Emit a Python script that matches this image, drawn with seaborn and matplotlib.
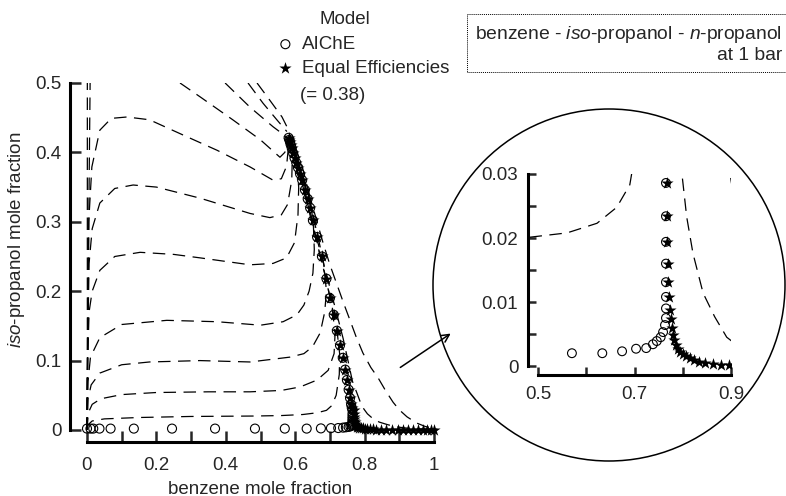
import matplotlib
matplotlib.use("Agg")
import matplotlib.pyplot as plt
from matplotlib.patches import Ellipse, FancyArrowPatch
import pandas as pd
import seaborn as sns

# residue curves (benzene x, iso-propanol y)
edge1_x = [0.0, 0.001, 0.001, 0.001]
edge1_y = [0.0, 0.1, 0.3, 0.5]
edge2_x = [0.0, 0.003, 0.006, 0.009]
edge2_y = [0.0, 0.15, 0.35, 0.5]

curve_a_x = [0.0, 0.002, 0.005, 0.014, 0.037, 0.07, 0.115, 0.18, 0.277, 0.375, 0.47, 0.536, 0.56, 0.575, 0.582]
curve_a_y = [0.0, 0.15, 0.3, 0.379, 0.432, 0.449, 0.451, 0.447, 0.425, 0.403, 0.379, 0.36, 0.362, 0.38, 0.415]
curve_b_x = [0.0, 0.002, 0.006, 0.015, 0.037, 0.08, 0.133, 0.2, 0.326, 0.47, 0.527, 0.56, 0.578, 0.59, 0.592, 0.585]
curve_b_y = [0.0, 0.12, 0.24, 0.29, 0.327, 0.348, 0.353, 0.35, 0.334, 0.312, 0.306, 0.31, 0.325, 0.36, 0.4, 0.418]
curve_c_x = [0.0, 0.002, 0.006, 0.015, 0.037, 0.08, 0.153, 0.25, 0.326, 0.47, 0.536, 0.575, 0.598, 0.608, 0.61, 0.605, 0.59]
curve_c_y = [0.0, 0.1, 0.17, 0.2, 0.23, 0.25, 0.256, 0.253, 0.248, 0.238, 0.24, 0.248, 0.27, 0.31, 0.35, 0.38, 0.41]
curve_d_x = [0.0, 0.003, 0.01, 0.037, 0.1, 0.23, 0.375, 0.5, 0.565, 0.605, 0.625, 0.64, 0.651, 0.655, 0.652, 0.64, 0.62, 0.598]
curve_d_y = [0.0, 0.07, 0.105, 0.133, 0.152, 0.158, 0.156, 0.151, 0.156, 0.166, 0.18, 0.2, 0.226, 0.26, 0.3, 0.34, 0.38, 0.41]
curve_e_x = [0.0, 0.003, 0.012, 0.037, 0.1, 0.18, 0.326, 0.47, 0.585, 0.625, 0.65, 0.672, 0.685, 0.69, 0.682, 0.665, 0.645, 0.62, 0.598]
curve_e_y = [0.0, 0.045, 0.065, 0.082, 0.094, 0.098, 0.1, 0.098, 0.105, 0.11, 0.12, 0.14, 0.17, 0.2, 0.24, 0.28, 0.32, 0.365, 0.405]
curve_f_x = [0.0, 0.004, 0.015, 0.04, 0.1, 0.2, 0.35, 0.47, 0.56, 0.614, 0.663, 0.695, 0.712, 0.715, 0.705, 0.688, 0.668, 0.645, 0.62, 0.598]
curve_f_y = [0.0, 0.025, 0.037, 0.045, 0.051, 0.054, 0.055, 0.055, 0.057, 0.062, 0.072, 0.086, 0.11, 0.14, 0.18, 0.22, 0.26, 0.31, 0.36, 0.405]
curve_g_x = [0.0, 0.004, 0.015, 0.05, 0.15, 0.3, 0.48, 0.56, 0.622, 0.663, 0.69, 0.705, 0.718, 0.727, 0.728, 0.72, 0.703, 0.685, 0.665, 0.645, 0.622, 0.602]
curve_g_y = [0.0, 0.008, 0.013, 0.016, 0.018, 0.0195, 0.0201, 0.0208, 0.0223, 0.0248, 0.0283, 0.035, 0.05, 0.08, 0.11, 0.145, 0.185, 0.225, 0.265, 0.305, 0.35, 0.39]

top1_x = [0.268, 0.326, 0.42, 0.5, 0.556, 0.57, 0.58]
top1_y = [0.5, 0.48, 0.447, 0.418, 0.393, 0.4, 0.415]
top2_x = [0.398, 0.47, 0.536, 0.576]
top2_y = [0.5, 0.465, 0.437, 0.422]
top3_x = [0.464, 0.507, 0.547, 0.576]
top3_y = [0.5, 0.471, 0.447, 0.43]
top4_x = [0.49, 0.527, 0.562, 0.585]
top4_y = [0.5, 0.475, 0.451, 0.428]

right1_x = [0.584, 0.6, 0.62, 0.64, 0.66, 0.68, 0.7, 0.72, 0.738, 0.752, 0.765, 0.778, 0.79, 0.798, 0.808,
            0.821, 0.842, 0.866, 0.891, 0.92, 0.95, 0.98, 1.0]
right1_y = [0.42, 0.39, 0.355, 0.318, 0.28, 0.243, 0.205, 0.167, 0.132, 0.1, 0.07, 0.053, 0.037, 0.0301, 0.0233,
            0.0176, 0.0114, 0.0077, 0.0045, 0.0028, 0.0017, 0.0009, 0.0005]
right2_x = [0.585, 0.6, 0.62, 0.64, 0.66, 0.68, 0.7, 0.72, 0.74, 0.758, 0.775, 0.795, 0.818, 0.839, 0.86,
            0.882, 0.9, 0.922, 0.95, 0.975, 1.0]
right2_y = [0.425, 0.4, 0.37, 0.34, 0.305, 0.27, 0.238, 0.21, 0.182, 0.158, 0.135, 0.111, 0.09, 0.075, 0.057,
            0.04, 0.029, 0.019, 0.01, 0.005, 0.002]

# simulated column profiles
line_x = [0.581, 0.583, 0.585, 0.587, 0.59, 0.594, 0.598, 0.603, 0.608, 0.614, 0.62, 0.628, 0.636, 0.643,
          0.651, 0.663, 0.677, 0.69, 0.7, 0.711, 0.72, 0.729, 0.737, 0.744, 0.749, 0.754, 0.758, 0.761, 0.763]
line_y = [0.421, 0.418, 0.415, 0.411, 0.406, 0.399, 0.392, 0.385, 0.378, 0.369, 0.36, 0.346, 0.333, 0.32,
          0.302, 0.278, 0.25, 0.218, 0.19, 0.166, 0.143, 0.122, 0.104, 0.087, 0.072, 0.058, 0.046, 0.037, 0.032]
aiche_tail_x = [0.765, 0.765, 0.765, 0.765, 0.765, 0.765, 0.765, 0.765, 0.763, 0.759, 0.754, 0.746, 0.738,
                0.724, 0.703, 0.674, 0.633, 0.57, 0.484, 0.369, 0.245, 0.135, 0.068, 0.036, 0.018, 0.01, 0.0]
aiche_tail_y = [0.0286, 0.0234, 0.0194, 0.016, 0.0131, 0.0108, 0.009, 0.0075, 0.0064, 0.0053, 0.0045, 0.0039,
                0.0034, 0.0028, 0.0027, 0.0023, 0.002, 0.002, 0.002, 0.002, 0.002, 0.002, 0.002, 0.002,
                0.002, 0.002, 0.002]
equal_tail_x = [0.768, 0.768, 0.768, 0.769, 0.77, 0.771, 0.773, 0.775, 0.777, 0.779, 0.782, 0.785, 0.789,
                0.794, 0.8, 0.807, 0.815, 0.824, 0.834, 0.846, 0.862, 0.88, 0.895, 0.91, 0.925, 0.94, 0.955,
                0.968, 0.98, 0.99, 1.0]
equal_tail_y = [0.0286, 0.0234, 0.0194, 0.016, 0.0131, 0.0108, 0.0088, 0.0073, 0.006, 0.0049, 0.004, 0.0033,
                0.0027, 0.0022, 0.0018, 0.0015, 0.0012, 0.0009, 0.0007, 0.0005, 0.0003, 0.0002, 0.0002,
                0.0001, 0.0001, 0.0001, 0.0001, 0.0001, 0.0001, 0.0001, 0.0001]

main_xticks = [0, 0.1, 0.2, 0.3, 0.4, 0.5, 0.6, 0.7, 0.8, 0.9, 1.0]
main_xlabels = ["0", "", "0.2", "", "0.4", "", "0.6", "", "0.8", "", "1"]
main_yticks = [0, 0.1, 0.2, 0.3, 0.4, 0.5]
main_ylabels = ["0", "0.1", "0.2", "0.3", "0.4", "0.5"]
zoom_xticks = [0.5, 0.6, 0.7, 0.8, 0.9]
zoom_xlabels = ["0.5", "", "0.7", "", "0.9"]
zoom_yticks = [0, 0.005, 0.01, 0.015, 0.02, 0.025, 0.03]
zoom_ylabels = ["0", "", "0.01", "", "0.02", "", "0.03"]

curves = {
    "e1": (edge1_x, edge1_y), "e2": (edge2_x, edge2_y),
    "a": (curve_a_x, curve_a_y), "b": (curve_b_x, curve_b_y), "c": (curve_c_x, curve_c_y),
    "d": (curve_d_x, curve_d_y), "e": (curve_e_x, curve_e_y), "f": (curve_f_x, curve_f_y),
    "g": (curve_g_x, curve_g_y),
    "t1": (top1_x, top1_y), "t2": (top2_x, top2_y), "t3": (top3_x, top3_y), "t4": (top4_x, top4_y),
    "r1": (right1_x, right1_y), "r2": (right2_x, right2_y),
}
rows = []
for name, (xs, ys) in curves.items():
    for i, (xv, yv) in enumerate(zip(xs, ys)):
        rows.append({"curve": name, "order": i, "x": xv, "y": yv})
curve_df = pd.DataFrame(rows)

aiche = pd.DataFrame({"x": line_x + aiche_tail_x, "y": line_y + aiche_tail_y})
equal = pd.DataFrame({"x": line_x + equal_tail_x, "y": line_y + equal_tail_y})

sns.set_theme(style="ticks")
plt.rcParams["font.family"] = ["Liberation Sans", "DejaVu Sans"]
plt.rcParams["mathtext.fontset"] = "custom"
plt.rcParams["mathtext.rm"] = "Liberation Sans"
plt.rcParams["mathtext.it"] = "Liberation Sans:italic"
FS = 13.5

fig = plt.figure(figsize=(7.86, 4.96), dpi=100)
ax = fig.add_axes([0.0886, 0.1093, 0.4636, 0.7234])
ax2 = fig.add_axes([0.6718, 0.2440, 0.2583, 0.4052])

dash = (0, (10, 6))
# the zoom view only shows the profiles from x = 0.5 on
views = [(ax, aiche, equal, 42, 85), (ax2, aiche[aiche["x"] >= 0.5], equal, 40, 85)]
for a, circ, star, ms_c, ms_s in views:
    sns.lineplot(data=curve_df, x="x", y="y", units="curve", estimator=None, sort=False,
                 color="black", lw=0.9, linestyle=dash, ax=a, legend=False)
    sns.scatterplot(data=circ, x="x", y="y", marker="o", s=ms_c, facecolors="none",
                    edgecolor="black", linewidth=0.8, ax=a, zorder=3, label="AIChE",
                    clip_on=(a is ax2))
    sns.scatterplot(data=star, x="x", y="y", marker="*", s=ms_s, color="black",
                    linewidth=0, ax=a, zorder=4, label="Equal Efficiencies",
                    clip_on=(a is ax2))

ax.set_xlim(-0.05, 1.0)
ax.set_ylim(-0.017, 0.5)
ax.set_xticks(main_xticks, main_xlabels)
ax.set_yticks(main_yticks, main_ylabels)
ax.spines["left"].set_bounds(0, 0.5)
ax.spines["bottom"].set_bounds(0, 1.0)
ax.tick_params(axis="x", direction="in", length=8, width=1.8, labelsize=FS, pad=11)
ax.tick_params(axis="y", direction="in", length=8, width=1.8, labelsize=FS, pad=6)
ax.set_xlabel("benzene mole fraction", fontsize=FS)
ax.set_ylabel(r"$\mathit{iso}$-propanol mole fraction", fontsize=FS)
ax.xaxis.set_label_coords(0.522, -0.108)
ax.yaxis.set_label_coords(-0.117, 0.562)

ax2.set_xlim(0.479, 0.9)
ax2.set_ylim(-0.0014, 0.03)
ax2.set_xticks(zoom_xticks, zoom_xlabels)
ax2.set_yticks(zoom_yticks, zoom_ylabels)
ax2.spines["left"].set_bounds(0, 0.03)
ax2.spines["bottom"].set_bounds(0.5, 0.9)
ax2.tick_params(axis="x", direction="in", length=6, width=1.8, labelsize=FS, pad=8)
ax2.tick_params(axis="y", direction="in", length=6, width=1.8, labelsize=FS, pad=7)
ax2.set_xlabel("")
ax2.set_ylabel("")
ax2.get_legend().remove()

for a in (ax, ax2):
    sns.despine(ax=a)
    for side in ("left", "bottom"):
        a.spines[side].set_linewidth(2.2)
        a.spines[side].set_color("black")
    a.patch.set_alpha(0)

handles, labels = ax.get_legend_handles_labels()
ax.legend(handles, labels, loc="upper left", bbox_to_anchor=(276 / 786, 1 - 36 / 496),
          bbox_transform=fig.transFigure, frameon=False, fontsize=FS, handlelength=1.0,
          handletextpad=0.4, labelspacing=0.35, borderpad=0, borderaxespad=0, scatterpoints=1)
fig.text(345 / 786, 1 - 20 / 496, "Model", ha="center", va="center", fontsize=FS)
fig.text(300 / 786, 1 - 95 / 496, "(= 0.38)", ha="left", va="center", fontsize=FS)

fig.text(475 / 786, 1 - 44 / 496, "benzene - $\\mathit{iso}$-propanol - $\\mathit{n}$-propanol\nat 1 bar",
         ha="left", va="center", multialignment="right", fontsize=13.9,
         bbox=dict(boxstyle="square,pad=0.4", fc="white", ec="black", lw=0.7, ls=(0, (1, 1))))

fig.add_artist(Ellipse((609 / 786, 1 - 285 / 496), 352 / 786, 352 / 496, transform=fig.transFigure,
                       fill=False, lw=1.1, color="black"))
fig.add_artist(FancyArrowPatch((398 / 786, 1 - 369 / 496), (453 / 786, 1 - 332 / 496),
                               transform=fig.transFigure, arrowstyle="->", mutation_scale=14,
                               lw=1.1, color="black"))

fig.savefig("out.png", dpi=100)
